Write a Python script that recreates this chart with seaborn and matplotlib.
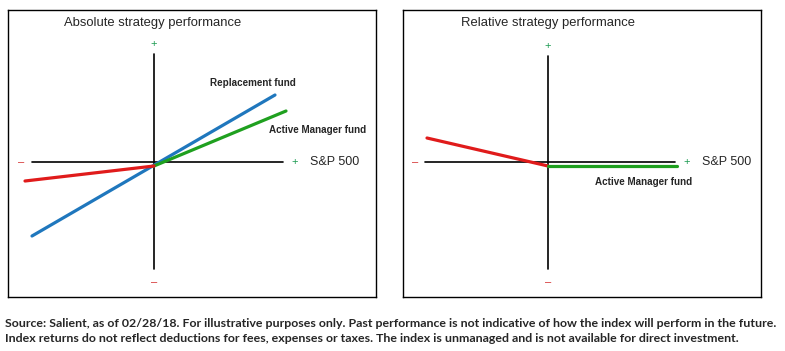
import matplotlib
matplotlib.use("Agg")
import matplotlib.pyplot as plt
import seaborn as sns
import pandas as pd

sns.set_style("white")
plt.rcParams['font.family'] = ['Liberation Sans', 'DejaVu Sans']

# line end points, in units from the crossing of the two axes
abs_replacement_x = [-12.2, 12.1]
abs_replacement_y = [-7.4, 6.7]
abs_active_x = [0.0, 13.2]
abs_active_y = [-0.4, 5.1]
abs_passive_x = [-12.9, 0.0]
abs_passive_y = [-1.9, -0.4]

rel_passive_x = [-12.1, 0.0]
rel_passive_y = [2.4, -0.4]
rel_active_x = [0.0, 12.9]
rel_active_y = [-0.4, -0.4]

BLUE = "#1f77bd"
GREEN = "#1fa01f"
RED = "#e01b1b"
PLUS = "#1a9a50"
MINUS = "#d42a2a"

footer = ("Source: Salient, as of 02/28/18. For illustrative purposes only. Past performance is not indicative of how the index will perform in the future.\n"
          "Index returns do not reflect deductions for fees, expenses or taxes. The index is unmanaged and is not available for direct investment.")

W, H = 785, 351
fig = plt.figure(figsize=(W / 100, H / 100), dpi=100)


def make_axes(left, right, top, bottom, ox, oy):
    ax = fig.add_axes([left / W, 1 - bottom / H, (right - left) / W, (bottom - top) / H])
    ax.set_xlim((left - ox) / 10, (right - ox) / 10)
    ax.set_ylim((oy - bottom) / 10, (oy - top) / 10)
    ax.set_xticks([])
    ax.set_yticks([])
    for s in ax.spines.values():
        s.set_color("black")
        s.set_linewidth(1.0)
    return ax


def draw_frame(ax, xaxis, yaxis, ends):
    ax.plot(xaxis, [0, 0], color="black", lw=1.2, zorder=1)
    ax.plot([0, 0], yaxis, color="black", lw=1.2, zorder=1)
    ax.text(0, yaxis[1] + 1.0, "+", color=PLUS, fontsize=8, ha="center", va="center")
    ax.text(0, yaxis[0] - 1.3, "\u2013", color=MINUS, fontsize=8, ha="center", va="center")
    ax.text(ends[0], 0, "\u2013", color=MINUS, fontsize=8, ha="center", va="center")
    ax.text(ends[1], 0, "+", color=PLUS, fontsize=8, ha="center", va="center")
    ax.text(ends[1] + 1.5, 0, "S&P 500", fontsize=9, ha="left", va="center")


def draw_line(ax, xs, ys, color):
    df = pd.DataFrame({"x": xs, "y": ys})
    sns.lineplot(data=df, x="x", y="y", ax=ax, color=color, lw=2.3, zorder=3)
    ax.set_xlabel("")
    ax.set_ylabel("")


# left panel
ax1 = make_axes(8, 376, 10, 297, 154, 162)
draw_frame(ax1, [-12.2, 12.9], [-10.7, 10.8], [-13.3, 14.1])
draw_line(ax1, abs_replacement_x, abs_replacement_y, BLUE)
draw_line(ax1, abs_active_x, abs_active_y, GREEN)
draw_line(ax1, abs_passive_x, abs_passive_y, RED)
ax1.text(-9.0, 13.9, "Absolute strategy performance", fontsize=9.4, ha="left", va="center")
ax1.text(5.6, 7.9, "Replacement fund", fontsize=7.1, fontweight="bold", ha="left", va="center")
ax1.text(11.5, 3.2, "Active Manager fund", fontsize=7.1, fontweight="bold", ha="left", va="center")

# right panel
ax2 = make_axes(403, 761, 10, 297, 548, 162)
draw_frame(ax2, [-12.3, 12.7], [-10.7, 10.6], [-13.3, 13.9])
draw_line(ax2, rel_passive_x, rel_passive_y, RED)
draw_line(ax2, rel_active_x, rel_active_y, GREEN)
ax2.text(-8.7, 13.9, "Relative strategy performance", fontsize=9.4, ha="left", va="center")
ax2.text(4.7, -2.0, "Active Manager fund", fontsize=7.1, fontweight="bold", ha="left", va="center")

fig.text(5 / W, 1 - 331 / H, footer, fontsize=8.9, fontweight="bold", family=["Lato", "DejaVu Sans"],
         ha="left", va="center", linespacing=1.35)

fig.savefig("out.png", dpi=100)
